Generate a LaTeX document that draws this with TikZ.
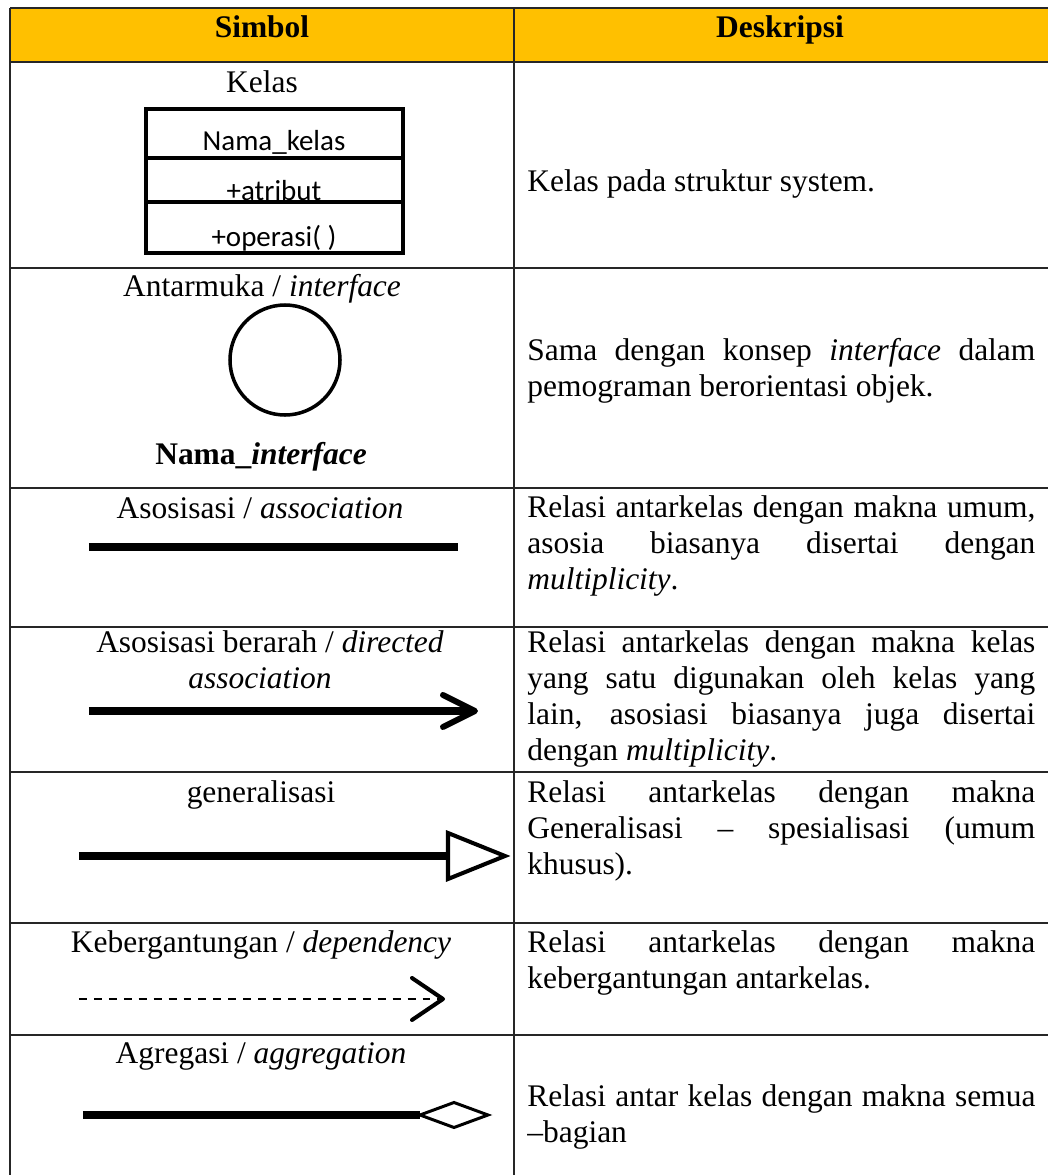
\documentclass[tikz,border=0pt]{standalone}
\usepackage{fontspec}
\setmainfont{Liberation Serif}
\newfontfamily\calibri{Carlito}
\usepackage{tikz}
\definecolor{headgold}{HTML}{FFC000}
\newlength\descw
\setlength\descw{289.1pt}
\newcommand\jline[1]{\makebox[\descw][s]{#1}}

\begin{document}
\begin{tikzpicture}[scale=0.2,
  every node/.style={inner sep=0pt, font=\fontsize{17.9}{20.5}\selectfont},
  grid/.style={draw=black!85, line width=1.1pt},
  lbl/.style={anchor=base},
  desc/.style={anchor=base west},
  boxtext/.style={anchor=base, font=\calibri\fontsize{16.5}{19}\selectfont},
  boxline/.style={line width=1.8pt},
  heavy/.style={line width=4.5pt},
  tipline/.style={line width=2.3pt, line join=round, line cap=round}]
\useasboundingbox (0,0) rectangle (104.8,-117.5);

% header
\fill [headgold] (1.0,-0.8) rectangle (104.8,-6.2);
\node [lbl] (hsym) at (26.2,-3.8) {\textbf{Simbol}};
\node [lbl] (hdesc) at (78.0,-3.8) {\textbf{Deskripsi}};

% table rules
\draw [grid] (1.0,-0.8) -- (104.8,-0.8);
\draw [grid] (1.0,-6.2) -- (104.8,-6.2);
\draw [grid] (1.0,-26.8) -- (104.8,-26.8);
\draw [grid] (1.0,-48.8) -- (104.8,-48.8);
\draw [grid] (1.0,-62.7) -- (104.8,-62.7);
\draw [grid] (1.0,-77.2) -- (104.8,-77.2);
\draw [grid] (1.0,-92.3) -- (104.8,-92.3);
\draw [grid] (1.0,-103.5) -- (104.8,-103.5);
\draw [grid] (1.0,-0.8) -- (1.0,-117.5);
\draw [grid] (51.4,-0.8) -- (51.4,-117.5);

% kelas
\node [lbl] (kelas) at (26.2,-9.3) {Kelas};
\node [boxtext] (kname) at (27.4,-15.0) {Nama\_kelas};
\node [boxtext] (kattr) at (27.4,-20.0) {+atribut};
\node [boxtext] (kop) at (27.4,-24.6) {+operasi( )};
\draw [boxline] (14.6,-15.8) -- (40.3,-15.8);
\draw [boxline] (14.6,-20.2) -- (40.3,-20.2);
\draw [boxline] (14.6,-10.9) rectangle (40.3,-25.3);
\node [desc] (d1a) at (52.7,-19.1) {Kelas pada struktur system.};

% interface
\node [lbl] (iface) at (26.2,-29.6) {Antarmuka / \textit{interface}};
\draw [line width=2pt] (28.5,-36.0) circle (5.5);
\node [lbl] (iname) at (26.1,-46.4) {\textbf{Nama\_\textit{interface}}};
\node [desc] (d2a) at (52.7,-36.0) {\jline{Sama dengan konsep \textit{interface} dalam}};
\node [desc] (d2b) at (52.7,-39.6) {pemograman berorientasi objek.};

% association
\node [lbl] (assoc) at (26.0,-51.8) {Asosisasi / \textit{association}};
\coordinate (asA) at (8.9,-54.7);
\coordinate (asB) at (45.8,-54.7);
\draw [heavy] (asA) -- (asB);
\node [desc] (d3a) at (52.7,-51.7) {\jline{Relasi antarkelas dengan makna umum,}};
\node [desc] (d3b) at (52.7,-55.3) {\jline{asosia biasanya disertai dengan}};
\node [desc] (d3c) at (52.7,-58.9) {\textit{multiplicity}.};

% directed association
\node [lbl] (dir1) at (27.0,-65.2) {Asosisasi berarah / \textit{directed}};
\node [lbl] (dir2) at (26.0,-68.8) {\textit{association}};
\coordinate (dirA) at (8.9,-71.1);
\coordinate (dirB) at (47.5,-71.1);
\draw [heavy, shorten >=3pt] (dirA) -- (dirB);
\draw [tipline, line width=3.4pt] (dirB) ++(-3.2,1.6) -- (dirB) -- ++(-3.2,-1.6);
\node [desc] (d4a) at (52.7,-65.2) {\jline{Relasi antarkelas dengan makna kelas}};
\node [desc] (d4b) at (52.7,-68.8) {\jline{yang satu digunakan oleh kelas yang}};
\node [desc] (d4c) at (52.7,-72.4) {\jline{lain, asosiasi biasanya juga disertai}};
\node [desc] (d4d) at (52.7,-76.0) {dengan \textit{multiplicity}.};

% generalisasi
\node [lbl] (gen) at (26.1,-80.2) {generalisasi};
\coordinate (genA) at (7.9,-85.6);
\coordinate (genB) at (44.8,-85.6);
\draw [heavy] (genA) -- (genB);
\draw [tipline, line join=miter] (genB) ++(0,2.3) -- ++(5.7,-2.3) -- ++(-5.7,-2.3) -- cycle;
\node [desc] (d5a) at (52.7,-80.2) {\jline{Relasi antarkelas dengan makna}};
\node [desc] (d5b) at (52.7,-83.8) {\jline{Generalisasi -- spesialisasi (umum}};
\node [desc] (d5c) at (52.7,-87.4) {khusus).};

% dependency
\node [lbl] (dep) at (26.1,-95.2) {Kebergantungan / \textit{dependency}};
\coordinate (depA) at (7.9,-99.9);
\coordinate (depB) at (44.3,-99.9);
\draw [line width=1.1pt, dash pattern=on 4.5pt off 4pt, shorten >=2pt] (depA) -- (depB);
\draw [tipline] (depB) ++(-3.1,2.1) -- (depB) -- ++(-3.1,-2.1);
\node [desc] (d6a) at (52.7,-95.2) {\jline{Relasi antarkelas dengan makna}};
\node [desc] (d6b) at (52.7,-98.8) {kebergantungan antarkelas.};

% agregasi
\node [lbl] (agr) at (26.1,-106.3) {Agregasi / \textit{aggregation}};
\coordinate (agA) at (8.3,-111.5);
\coordinate (agB) at (42.0,-111.5);
\draw [heavy] (agA) -- (agB);
\draw [line width=1.7pt, line join=miter] (agB) -- ++(3.4,1.25) -- ++(3.4,-1.25) -- ++(-3.4,-1.25) -- cycle;
\node [desc] (d7a) at (52.7,-110.6) {\jline{Relasi antar kelas dengan makna semua}};
\node [desc] (d7b) at (52.7,-114.2) {--bagian};
\end{tikzpicture}
\end{document}
